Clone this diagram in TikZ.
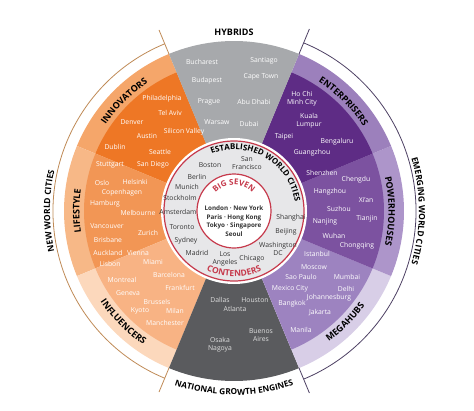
\documentclass[tikz,border=0pt]{standalone}
\usepackage{fontspec}
\setmainfont{Open Sans}
\usetikzlibrary{decorations.text}

\definecolor{innodark}{HTML}{EE7725}
\definecolor{innoband}{HTML}{F5A66A}
\definecolor{lifemain}{HTML}{F29655}
\definecolor{lifeband}{HTML}{F7B887}
\definecolor{inflmain}{HTML}{F8B384}
\definecolor{inflband}{HTML}{FCD8BC}
\definecolor{hybridgray}{HTML}{A7A9AC}
\definecolor{enginegray}{HTML}{5A5B5E}
\definecolor{enterdark}{HTML}{5E2C85}
\definecolor{enterband}{HTML}{9C80BC}
\definecolor{powermain}{HTML}{7C52A0}
\definecolor{powerband}{HTML}{AD95CA}
\definecolor{megamain}{HTML}{9D83C0}
\definecolor{megaband}{HTML}{D8CEE7}
\definecolor{estfill}{HTML}{E7E7E9}
\definecolor{bigred}{HTML}{C63A4C}
\definecolor{newline}{HTML}{BF8A56}
\definecolor{emergeline}{HTML}{4D4063}
\definecolor{estgray}{HTML}{333333}

% wedge of the wheel: from, to, radius, colour
\newcommand{\citysector}[4]{\fill[#4] (0,0) -- (#1:#3) arc[start angle=#1, end angle=#2, radius=#3] -- cycle;}
% text bent along an arc: radius, from, to, format, text
\newcommand{\arclabel}[5]{\path[decorate, decoration={text along path, text align=center, text={|#4|#5}}] (#2:#1) arc[start angle=#2, end angle=#3, radius=#1];}

\tikzset{
  city/.style={text=white, font=\fontsize{6.8}{8}\selectfont, align=center, inner sep=0pt},
  estcity/.style={city, text=estgray},
  enginecity/.style={city, text=white!88!black},
  bigseven/.style={font=\bfseries\fontsize{6.3}{8.7}\selectfont, align=center, text=estgray},
  ringtick/.style={line width=0.8pt}
}

\begin{document}
\begin{tikzpicture}[x=1pt,y=1pt]
\useasboundingbox (-234,-199) rectangle (240,211);

% the wheel
\citysector{112.5}{157.5}{170}{innoband}
\citysector{112.5}{157.5}{150}{innodark}
\citysector{157.5}{202.5}{170}{lifeband}
\citysector{157.5}{202.5}{150}{lifemain}
\citysector{202.5}{247.5}{170}{inflband}
\citysector{202.5}{247.5}{150}{inflmain}
\citysector{247.5}{292.5}{170}{enginegray}
\citysector{292.5}{337.5}{170}{megaband}
\citysector{292.5}{337.5}{150}{megamain}
\citysector{-22.5}{22.5}{170}{powerband}
\citysector{-22.5}{22.5}{150}{powermain}
\citysector{22.5}{67.5}{170}{enterband}
\citysector{22.5}{67.5}{150}{enterdark}
\citysector{67.5}{112.5}{170}{hybridgray}

\fill[white] (0,0) circle[radius=73];
\filldraw[fill=estfill, draw=bigred, line width=1.2pt] (0,0) circle[radius=70]; % established
\filldraw[fill=white, draw=bigred, line width=1.2pt] (0,0) circle[radius=37]; % big seven

% outer brackets
\draw[newline, ringtick] (112.5:181) arc[start angle=112.5, end angle=247.5, radius=181];
\draw[newline, ringtick] (112.5:170) -- (112.5:196);
\draw[newline, ringtick] (247.5:170) -- (247.5:196);
\draw[emergeline, ringtick] (67.5:182) arc[start angle=67.5, end angle=-67.5, radius=182];
\draw[emergeline, ringtick] (67.5:170) -- (67.5:197);
\draw[emergeline, ringtick] (-67.5:170) -- (-67.5:197);

% group labels
\node[font=\bfseries\fontsize{9}{10}\selectfont] (hybrids) at (0,179) {HYBRIDS};
\arclabel{184}{210}{150}{\bfseries\fontsize{8.5}{10}\selectfont}{NEW WORLD CITIES}
\arclabel{185}{30}{-30}{\bfseries\fontsize{8.5}{10}\selectfont}{EMERGING WORLD CITIES}
\arclabel{184}{230}{310}{\bfseries\fontsize{8.3}{10}\selectfont}{NATIONAL GROWTH ENGINES}
\arclabel{154.5}{165}{105}{\bfseries\fontsize{9}{10}\selectfont}{INNOVATORS}
\arclabel{154.5}{210}{150}{\bfseries\fontsize{9}{10}\selectfont}{LIFESTYLE}
\arclabel{161.5}{195}{255}{\bfseries\fontsize{9}{10}\selectfont}{INFLUENCERS}
\arclabel{154.5}{75}{15}{\bfseries\fontsize{9}{10}\selectfont}{ENTERPRISERS}
\arclabel{154.5}{30}{-30}{\bfseries\fontsize{9}{10}\selectfont}{POWERHOUSES}
\arclabel{161.5}{-75}{-15}{\bfseries\fontsize{9}{10}\selectfont}{MEGAHUBS}
\arclabel{61.5}{150}{-30}{\bfseries\fontsize{8}{10}\selectfont}{ESTABLISHED WORLD CITIES}
\arclabel{26}{160}{20}{\color{bigred}\bfseries\fontsize{8}{10}\selectfont}{BIG SEVEN}
\arclabel{65.5}{220}{320}{\color{bigred}\bfseries\fontsize{8.5}{10}\selectfont}{CONTENDERS}

% cities
\foreach \nm/\pos/\txt in {bucharest/{(-32,149)}/Bucharest, budapest/{(-27,130)}/Budapest,
  prague/{(-25,109)}/Prague, warsaw/{(-17,89)}/Warsaw, santiago/{(30,150)}/Santiago,
  capetown/{(27,134)}/Cape Town, abudhabi/{(20,109)}/Abu Dhabi, dubai/{(15,87)}/Dubai}
  \node[city] (\nm) at \pos {\txt};
\foreach \nm/\pos/\txt in {philadelphia/{(-72,112)}/Philadelphia, telaviv/{(-64,98)}/Tel Aviv,
  denver/{(-102,89)}/Denver, siliconvalley/{(-50,79)}/Silicon Valley, austin/{(-87,75)}/Austin,
  dublin/{(-119,64)}/Dublin, seattle/{(-74,59)}/Seattle, sandiego/{(-81,46)}/San Diego,
  stuttgart/{(-124,46)}/Stuttgart, oslo/{(-132,28)}/Oslo, helsinki/{(-99,29)}/Helsinki,
  copenhagen/{(-112,18)}/Copenhagen, hamburg/{(-129,7)}/Hamburg, melbourne/{(-96,-2)}/Melbourne,
  vancouver/{(-127,-15)}/Vancouver, zurich/{(-86,-22)}/Zurich, brisbane/{(-126,-29)}/Brisbane,
  auckland/{(-126,-42)}/Auckland, vienna/{(-96,-42)}/Vienna, lisbon/{(-124,-53)}/Lisbon,
  miami/{(-81,-51)}/Miami, barcelona/{(-65,-64)}/Barcelona, montreal/{(-112,-69)}/Montreal,
  frankfurt/{(-54,-77)}/Frankfurt, geneva/{(-106,-82)}/Geneva, brussels/{(-77,-91)}/Brussels,
  kyoto/{(-94,-100)}/Kyoto, milan/{(-59,-100)}/Milan, manchester/{(-69,-112)}/Manchester}
  \node[city] (\nm) at \pos {\txt};
\foreach \nm/\pos/\txt in {hochiminh/{(68,112)}/{Ho Chi\\Minh City}, kualalumpur/{(75,90)}/{Kuala\\Lumpur},
  taipei/{(50,74)}/Taipei, bengaluru/{(103,69)}/Bengaluru, guangzhou/{(78,58)}/Guangzhou,
  shenzhen/{(88,38)}/Shenzhen, chengdu/{(122,31)}/Chengdu, hangzhou/{(96,19)}/Hangzhou,
  xian/{(132,11)}/Xi’an, suzhou/{(105,2)}/Suzhou, tianjin/{(133,-8)}/Tianjin,
  nanjing/{(91,-11)}/Nanjing, wuhan/{(100,-25)}/Wuhan, chongqing/{(123,-35)}/Chongqing,
  istanbul/{(83,-43)}/Istanbul, moscow/{(80,-56)}/Moscow, saopaulo/{(67,-66)}/Sao Paulo,
  mumbai/{(113,-66)}/Mumbai, mexicocity/{(56,-78)}/Mexico City, delhi/{(112,-78)}/Delhi,
  johannesburg/{(95,-87)}/Johannesburg, bangkok/{(58,-93)}/Bangkok, jakarta/{(86,-102)}/Jakarta,
  manila/{(67,-119)}/Manila}
  \node[city] (\nm) at \pos {\txt};
\foreach \nm/\pos/\txt in {dallas/{(-14,-89)}/Dallas, houston/{(21,-89)}/Houston, atlanta/{(1,-98)}/Atlanta,
  buenosaires/{(27,-124)}/{Buenos\\Aires}, osakanagoya/{(-14,-134)}/{Osaka\\Nagoya}}
  \node[enginecity] (\nm) at \pos {\txt};
\foreach \nm/\pos/\txt in {sanfrancisco/{(13,48)}/{San\\Francisco}, boston/{(-24,46)}/Boston,
  berlin/{(-37,34)}/Berlin, munich/{(-47,24)}/Munich, stockholm/{(-54,13)}/Stockholm,
  amsterdam/{(-56,-1)}/Amsterdam, toronto/{(-52,-16)}/Toronto, sydney/{(-48,-30)}/Sydney,
  madrid/{(-37,-42)}/Madrid, losangeles/{(-9,-48)}/{Los\\Angeles}, chicago/{(18,-48)}/Chicago,
  washington/{(44,-38)}/{Washington\\DC}, beijing/{(52,-21)}/Beijing, shanghai/{(57,-7)}/Shanghai}
  \node[estcity] (\nm) at \pos {\txt};

\node[bigseven] (sevencities) at (0,-10) {London · New York\\Paris · Hong Kong\\Tokyo · Singapore\\Seoul};
\end{tikzpicture}
\end{document}
